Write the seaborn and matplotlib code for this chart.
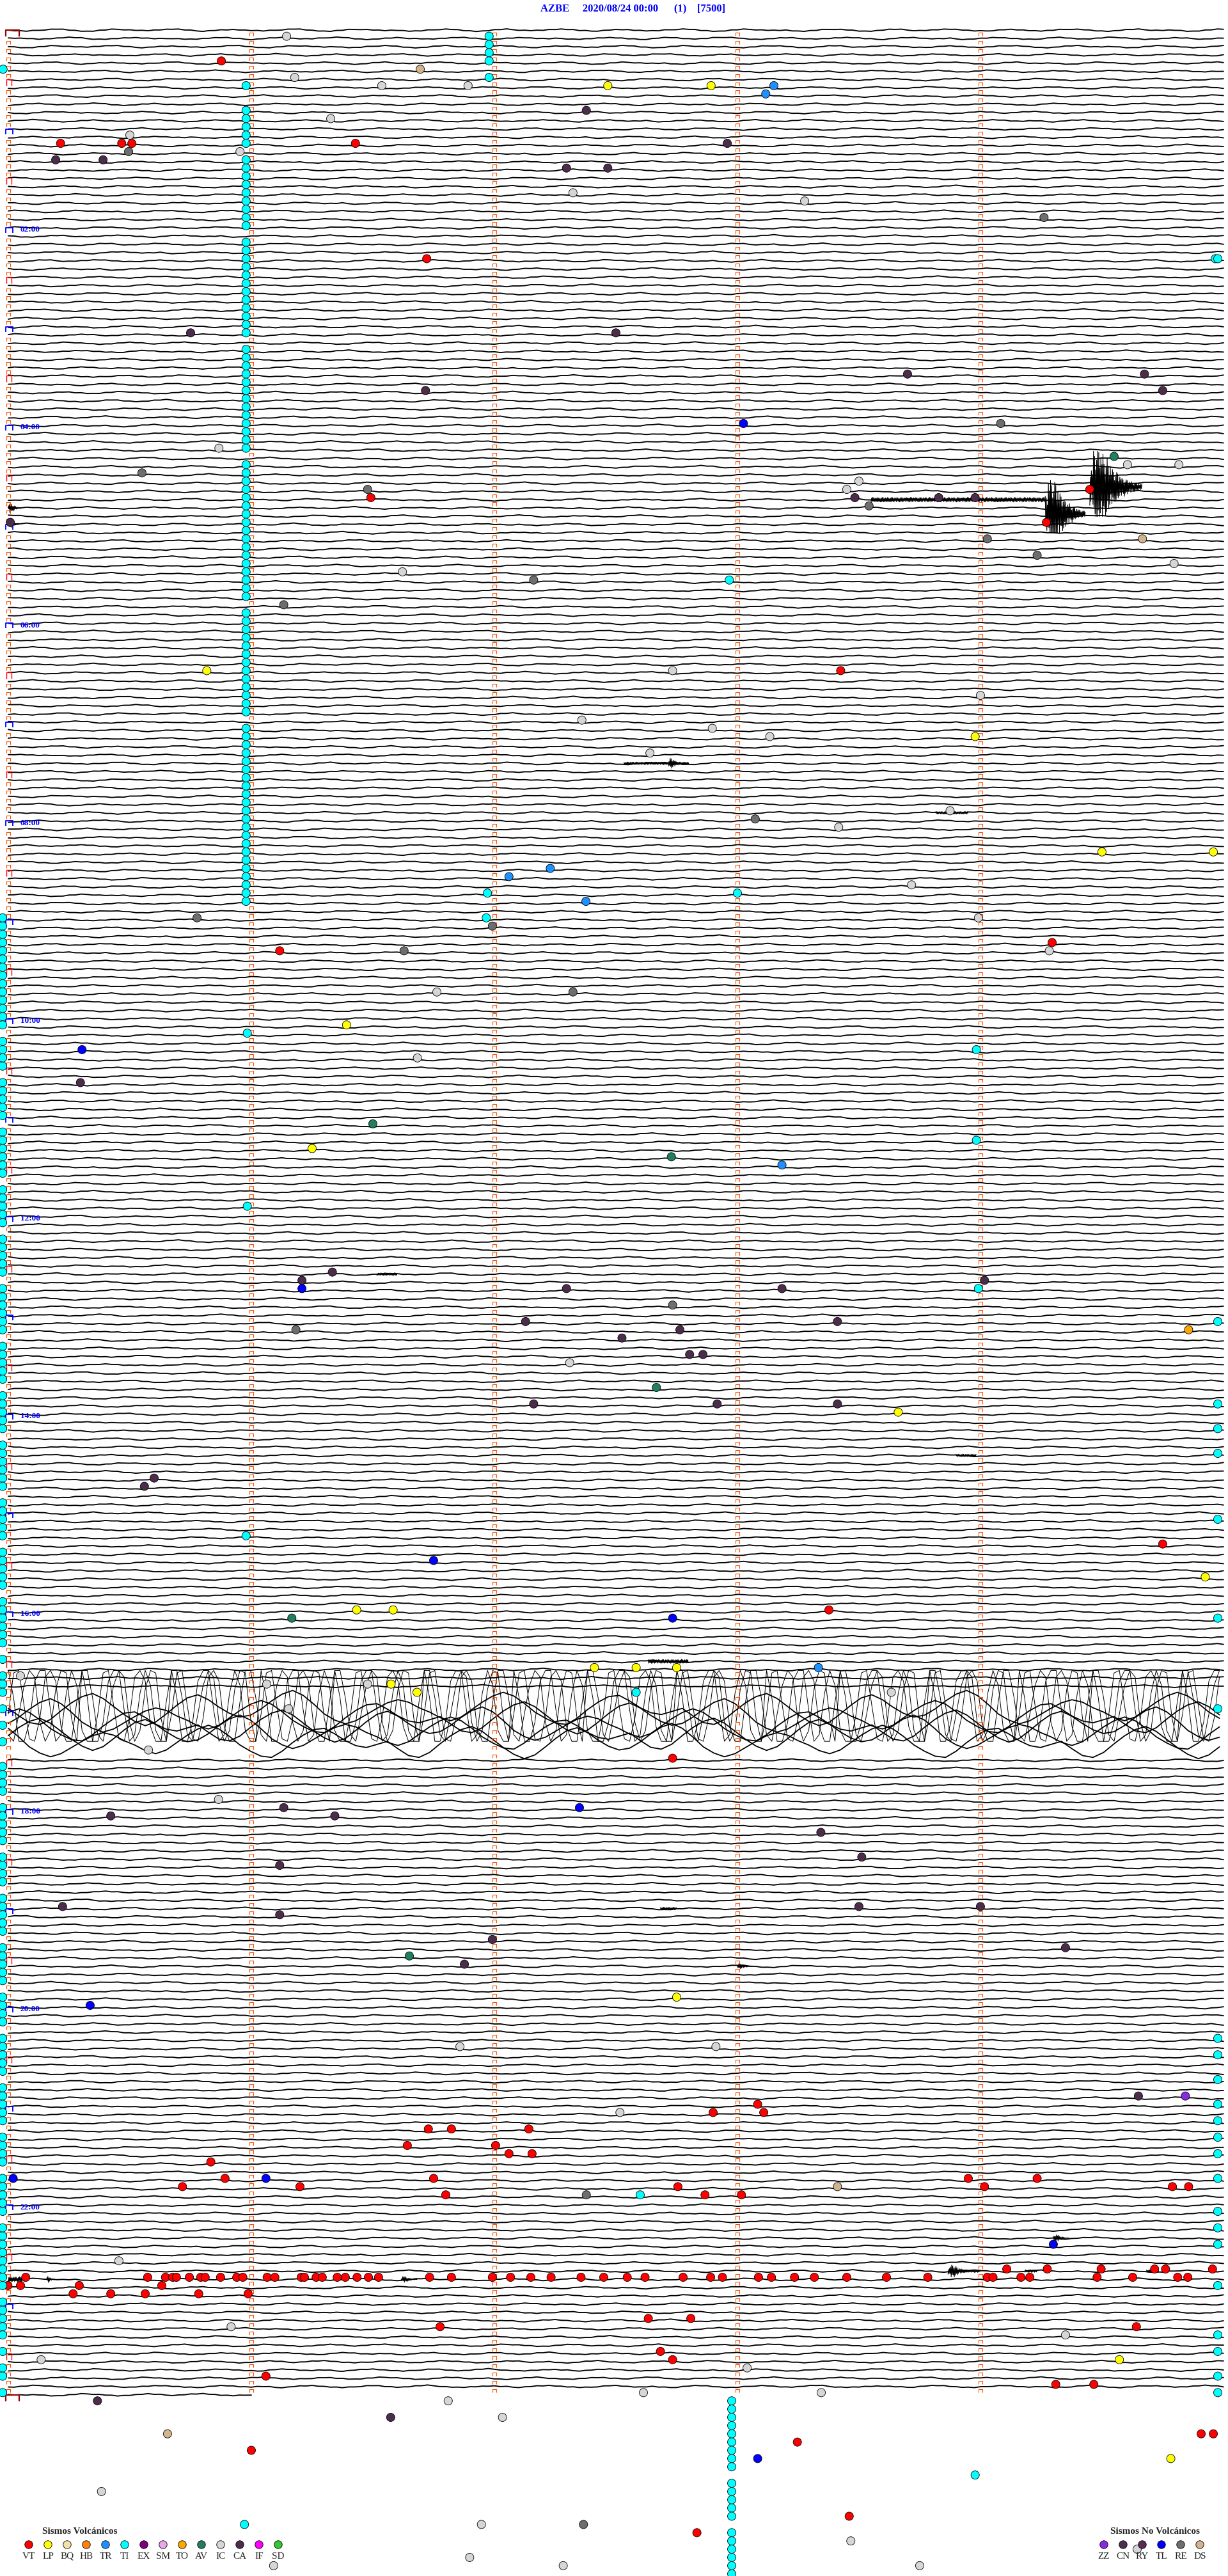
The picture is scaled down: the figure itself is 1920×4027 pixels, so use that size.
import numpy as np
import pandas as pd
import matplotlib
matplotlib.use("Agg")
import matplotlib.pyplot as plt
import seaborn as sns
from matplotlib.path import Path

# helicorder: 288 rows of 5 minutes, x = seconds inside the row
n_rows = 288
row_secs = 300
last_row_secs = 60
label_hours = [2, 4, 6, 8, 10, 12, 14, 16, 18, 20, 22]

# background wiggle (pixels), reused with a shift on every row
wiggle_px = [0.0, 1.2, 2.3, 2.6, 1.8, 0.4, -0.9, -1.9, -2.4, -1.6, -0.3, 1.0, 2.1, 2.8, 2.2, 0.9,
             -0.5, -1.7, -2.2, -1.4, -0.2, 0.8, 1.4, 1.1, 0.1, -1.2, -2.3, -2.9, -2.1, -0.7, 0.9, 1.9,
             2.5, 2.0, 1.0, 0.0, -0.9, -1.4, -1.0, -0.1, 0.6, 1.5, 2.0, 1.4, 0.2, -1.0, -2.0, -2.6,
             -2.0, -0.8, 0.6, 1.6, 2.4, 2.6, 1.6, 0.2, -1.0, -1.9, -2.1, -1.2, -0.1, 0.7, 1.0, 0.5]
jitter_px = [0.0, 0.5, -0.4, 0.3, -0.6, 0.2, 0.6, -0.3, 0.1, -0.5, 0.4, -0.2, 0.6]
burst_shape = [1.0, -0.7, 0.85, -1.0, 0.6, -0.9, 0.95, -0.5, 0.75, -0.85, 0.4, -0.65, 0.9, -0.95,
               0.55, -0.8, 0.7, -0.45]
decay_env = [0.5, 1.0, 1.0, 0.9, 0.75, 0.6, 0.48, 0.38, 0.3, 0.24, 0.19, 0.15, 0.12, 0.1, 0.08]
storm_swing = [-1.0, -0.2, 0.9, 1.0, 0.4, -0.6, -1.0, -0.9, 0.1, 1.0, 0.7, -0.3, -1.0, -0.5, 0.6, 1.0,
               1.0, 0.2, -0.8, -1.0, 0.0, 0.8, 1.0, 0.3, -0.7, -1.0, -0.6, 0.5, 1.0, 0.9, -0.1, -0.9,
               -1.0, -0.2, 0.7, 1.0, 0.2, -0.5, -1.0, -0.7, 0.4, 1.0, 0.6, -0.4, -1.0, -0.8, 0.3, 0.9]
storm_thin_rows = [202, 203, 204]
storm_thick_rows = [205, 206, 207, 208, 209]

# bursts: row, start sec, end sec, amplitude px, offset px, shape
bursts = [
    (57, 213, 256, 3.5, 0, "flat"), (57, 256, 266, 55, 22, "decay"), (55, 267, 280, 60, 6, "decay"),
    (58, 0, 3, 8, 0, "decay"), (60, 0, 2.5, 6, 0, "decay"),
    (89, 152, 168, 2, 0, "flat"), (89, 163, 167, 8, 0, "decay"), (95, 229, 237, 2, 0, "flat"),
    (151, 91, 96, 2, 0, "flat"), (173, 234, 239, 2, 0, "flat"), (198, 158, 168, 3, 0, "flat"),
    (228, 161, 165, 2, 0, "flat"), (235, 180, 184, 4, 0, "decay"), (268, 258, 262, 6, 0, "decay"),
    (272, 232, 238, 10, 0, "decay"), (272, 235, 240, 2, 0, "flat"), (272, 251, 254, 2, 0, "flat"),
    (272, 281, 284, 2, 0, "flat"), (273, 0, 4, 4, 0, "flat"), (273, 9.5, 11.5, 5, 0, "decay"),
    (273, 97, 101, 5, 0, "decay"),
]

# event circles (row, sec) per type
vt_events = [(4, 52.6), (14, 12.9), (14, 28), (14, 30.5), (14, 85.7), (28, 103.3), (56, 267), (60, 256.3),
             (57, 89.5), (78, 205.5), (111, 257.7), (112, 67), (184, 285), (192, 202.6), (210, 164),
             (252, 185), (253, 174), (253, 186.5), (255, 103.7), (255, 109.4), (257, 120.3), (255, 128.5),
             (258, 123.6), (258, 129.3), (257, 98.5), (259, 50), (261, 53.5), (262, 43), (262, 72),
             (261, 105), (263, 108), (262, 165.3), (263, 172), (263, 181), (261, 237), (262, 241),
             (261, 254), (262, 287.4), (262, 291.4),
             (272, 246.5), (272, 256.5), (272, 269.8), (272, 283), (272, 285.7), (272, 297.3),
             (273, 4.3), (273, 34.4), (273, 38.8), (273, 40.6), (273, 41.5), (273, 44.7), (273, 47.5),
             (273, 48.6), (273, 52.4), (273, 56.4), (273, 57.9), (273, 63.9), (273, 65.8), (273, 72.3),
             (273, 73.1), (273, 76), (273, 77.5), (273, 81.2), (273, 83.2), (273, 86.1), (273, 88.9),
             (273, 91.4), (273, 104), (273, 109.4), (273, 119.5), (273, 124), (273, 129), (273, 134),
             (273, 141.4), (273, 147), (273, 152.8), (273, 157.2), (273, 166.6), (273, 173.4),
             (273, 176.3), (273, 185.2), (273, 188.4), (273, 194.1), (273, 199), (273, 207), (273, 216.8),
             (273, 227), (273, 241.7), (273, 243.1), (273, 250), (273, 252.2), (273, 268.8), (273, 277.6),
             (273, 288.7), (273, 291.2),
             (274, -0.1), (274, 3), (274, 17.5), (274, 37.9),
             (275, 16), (275, 25.3), (275, 33.8), (275, 47), (275, 59.2),
             (278, 158), (278, 168.5), (282, 161), (283, 164), (279, 106.6), (285, 63.6), (279, 278.5),
             (286, 258.6), (286, 268), (293, 194.8), (302, 207.6), (304, 170), (292, 297.5), (292, 294.5),
             (294, 60)]
lp_events = [(7, 148), (7, 173.5), (78, 49), (86, 238.7), (100, 270), (100, 297.5), (121, 83.5), (136, 75),
             (168, 219.7), (188, 295.5), (192, 86), (192, 95), (199, 144.7), (199, 155), (199, 165),
             (201, 94.5), (202, 100.9), (239, 165), (283, 274.3), (295, 287)]
tr_events = [(7, 189), (8, 187), (103, 123.6), (102, 133.8), (106, 142.6), (138, 191), (199, 200)]
ti_events = [(5, -1.3), (28, 298), (67, 178), (105, 118.3), (108, 118), (105, 180), (124, 239), (135, 239),
             (153, 239.5), (183, 58.7), (202, 155), (263, 156), (297, 238.7), (303, 58.3), (122, 59), (143, 59)]
ic_events = [(1, 68.7), (6, 70.7), (7, 92.2), (7, 113.5), (11, 79.6), (15, 57.2), (13, 30), (20, 139.4),
             (21, 196.6), (51, 52), (53, 276.3), (53, 289), (55, 210), (56, 207), (65, 287.8), (66, 97.3),
             (78, 164), (81, 240), (84, 141.6), (85, 173.8), (86, 188), (88, 158.4), (95, 232.5), (97, 205),
             (104, 223), (108, 239.5), (112, 257), (117, 105.8), (125, 101), (162, 138.6), (200, 3),
             (201, 63.8), (201, 88.7), (202, 218), (204, 69.2), (209, 34.6), (215, 51.9), (245, 111.5),
             (245, 174.7), (253, 151), (271, 27.3), (279, 55), (280, 261), (283, 8.1), (284, 182.4),
             (287, 156.8), (287, 200.7), (288, 108.6), (290, 122), (299, 23), (303, 116.8), (305, 208),
             (306, 278.7), (307, 113.9), (308, 137), (308, 65.5), (308, 225)]
ca_events = [(10, 142.7), (14, 177.5), (16, 11.7), (16, 23.4), (17, 137.8), (17, 148), (37, 45), (37, 150),
             (42, 222), (42, 280.5), (44, 103), (44, 285), (57, 209), (57, 229.7), (57, 238.7), (60, 0.5),
             (128, 17.8), (151, 80), (152, 72.5), (152, 241), (153, 191), (153, 137.8), (157, 127.7),
             (157, 204.7), (158, 165.8), (159, 151.5), (161, 168.2), (161, 171.5), (167, 129.7), (167, 175),
             (167, 204.7), (176, 36), (177, 33.6), (216, 68), (217, 25.3), (217, 80.6), (219, 200.6),
             (222, 210.7), (223, 67), (228, 13.4), (228, 210), (228, 240), (229, 67), (232, 119.5),
             (233, 261), (235, 112.6), (251, 279), (288, 22), (290, 94.4)]
re_events = [(15, 29.7), (23, 255.7), (48, 245), (54, 33), (56, 88.7), (58, 212.5), (62, 241.7), (64, 254),
             (67, 129.7), (70, 68), (96, 184.4), (108, 46.6), (109, 119.5), (112, 97.7), (117, 139.4),
             (155, 164), (158, 71), (263, 142.7), (303, 142)]
ds_events = [(5, 101.7), (62, 280), (262, 204.7), (292, 39.3)]
av_events = [(52, 273), (133, 90), (137, 163.7), (165, 160), (193, 70), (234, 99)]
tl_events = [(48, 181.5), (124, 18.2), (153, 72.5), (186, 105), (193, 164), (216, 141), (240, 20.2),
             (261, 63.6), (261, 1.2), (269, 258), (295, 185)]
to_events = [(158, 291.4)]
zz_events = [(251, 290.6)]

# columns of TI (tremor) marks
ti_col1_sec, ti_col1_rows = 58.7, [7, 10, 11, 12, 13, 14] + [r for r in range(16, 107) if r not in (25, 38, 52, 70, 84)]
ti_col2_sec, ti_col2_rows = 118.7, [1, 2, 3, 4, 6]
ti_left_sec = -1.4
ti_left_rows = [r for r in range(108, 288) if r not in
                (122, 127, 133, 140, 146, 152, 159, 165, 171, 178, 184, 190, 197, 199, 203, 205, 207, 209,
                 210, 215, 221, 226, 232, 238, 243, 249, 255, 260, 266, 275, 281, 283, 286)]
ti_right_sec = 298.6
ti_right_rows = [28, 157, 167, 170, 173, 181, 193, 204, 244, 246, 249, 252, 254, 256, 258, 261, 265, 267,
                 269, 274, 280, 282, 285, 287]
ti_below_sec = 178.6
ti_below_rows = list(range(288, 297)) + list(range(298, 303)) + list(range(304, 310))

vol_codes = ["VT", "LP", "BQ", "HB", "TR", "TI", "EX", "SM", "TO", "AV", "IC", "CA", "IF", "SD"]
vol_colors = ["#ff0000", "#ffff00", "#f2e2a8", "#ff8010", "#1e90ff", "#00ffff", "#800080", "#e8a8e8",
              "#ffa500", "#1f7f5f", "#d6d6d6", "#4b2d4b", "#ff00ff", "#32c832"]
nv_codes = ["ZZ", "CN", "RY", "TL", "RE", "DS"]
nv_colors = ["#8a2be2", "#4b3050", "#5a2a55", "#0000ff", "#6e6e6e", "#d2b48c"]

W, H = 1920, 4027
px_row = 12.88
px_sec = 6.333
top_px, left_px = 47, 13

sns.set_style("white")
plt.rcParams["font.family"] = ["Liberation Serif", "DejaVu Serif"]

fig = plt.figure(figsize=(W / 100, H / 100), dpi=100)
ax = fig.add_axes([0, 0, 1, 1])

# ---- traces
parts = []
storm_rows = storm_thin_rows + storm_thick_rows
for r in range(n_rows):
    if r in storm_rows:
        continue
    end = last_row_secs if r == n_rows - 1 else row_secs
    xs = np.arange(0, end + 0.01, 1.5)
    idx = np.arange(len(xs))
    w = np.take(wiggle_px, (idx + 37 * r) % len(wiggle_px))
    j = np.take(jitter_px, (idx + 5 * r) % len(jitter_px))
    parts.append(pd.DataFrame({"line": r, "sec": xs, "y": r + (0.6 * w + j) / px_row}))
traces = pd.concat(parts)

thin = []
for k, r in enumerate(storm_thin_rows):
    xs = np.arange(0, row_secs + 0.01, 1.3)
    idx = np.arange(len(xs))
    s = np.take(storm_swing, (idx + 17 * k) % len(storm_swing))
    thin.append(pd.DataFrame({"line": r, "sec": xs, "y": np.clip(203.4 + 5.0 * s, 199.1, 207.7)}))
thick = []
for k, r in enumerate(storm_thick_rows):
    xs = np.arange(0, row_secs + 0.01, 2.6)
    idx = np.arange(len(xs))
    w = np.take(wiggle_px, (idx + 23 * k) % len(wiggle_px))
    thick.append(pd.DataFrame({"line": r, "sec": xs, "y": r - 1.3 + w * 0.75}))

bl = []
for b, (r, s0, s1, amp, off, kind) in enumerate(bursts):
    xs = np.arange(s0, s1, 0.13)
    idx = np.arange(len(xs))
    shape = np.take(burst_shape, (idx + 3 * b) % len(burst_shape))
    env = np.take(decay_env, idx * len(decay_env) // len(xs)) if kind == "decay" else 1.0
    ypx = np.clip(off + amp * env * shape, -50, 52)
    bl.append(pd.DataFrame({"line": 1000 + b, "sec": xs, "y": r + ypx / px_row}))

sns.lineplot(data=traces, x="sec", y="y", units="line", estimator=None, sort=False,
             color="black", linewidth=1.35, ax=ax, legend=False)
sns.lineplot(data=pd.concat(thick), x="sec", y="y", units="line", estimator=None, sort=False,
             color="black", linewidth=1.3, ax=ax, legend=False)
sns.lineplot(data=pd.concat(thin), x="sec", y="y", units="line", estimator=None, sort=False,
             color="black", linewidth=0.7, ax=ax, legend=False)
sns.lineplot(data=pd.concat(bl), x="sec", y="y", units="line", estimator=None, sort=False,
             color="black", linewidth=0.8, ax=ax, legend=False)


# ---- minute marks
def bracket(wd, ht):
    return Path([(-wd, -ht), (-wd, ht), (wd, ht), (wd, -ht)],
                [Path.MOVETO, Path.LINETO, Path.LINETO, Path.LINETO])


small_x, small_y = [], []
blue_y, red_y, dark_y = [], [], []
for r in range(n_rows):
    n_min = 1 if r == n_rows - 1 else 5
    for m in range(n_min):
        if m == 0 and (r == 0 or r == n_rows - 1):
            dark_y.append(r)
        elif m == 0 and r % 12 == 0:
            blue_y.append(r)
        elif m == 0 and r % 6 == 0:
            red_y.append(r)
        else:
            small_x.append(m * 60)
            small_y.append(r + 0.53)
ax.scatter(small_x, small_y, marker=bracket(1, 1), s=14, facecolors="none",
           edgecolors="#ff5000", linewidths=0.8, zorder=3)
ax.scatter([0.3] * len(blue_y), np.array(blue_y) + 0.31, marker=bracket(1, 0.73), s=63,
           facecolors="none", edgecolors="#0000ff", linewidths=1.3, zorder=3)
ax.scatter([0.2] * len(red_y), np.array(red_y) + 0.35, marker=bracket(0.8, 1), s=52,
           facecolors="none", edgecolors="#ff0000", linewidths=1.0, zorder=3)
ax.scatter([1.1] * len(dark_y), np.array(dark_y) + 0.39, marker=bracket(1, 0.48), s=228,
           facecolors="none", edgecolors="#990000", linewidths=1.6, zorder=3)

for h in label_hours:
    ax.text(3.0, h * 12 + 0.25, f"{h:02d}:00", color="#0000ff", fontsize=9.5,
            fontweight="bold", ha="left", va="center")

# ---- event circles
groups = {"VT": vt_events, "LP": lp_events, "TR": tr_events, "TI": ti_events, "IC": ic_events,
          "CA": ca_events, "RE": re_events, "DS": ds_events, "AV": av_events, "TL": tl_events,
          "TO": to_events, "ZZ": zz_events}
cols = [(ti_col1_sec, ti_col1_rows), (ti_col2_sec, ti_col2_rows), (ti_left_sec, ti_left_rows),
        (ti_right_sec, ti_right_rows), (ti_below_sec, ti_below_rows)]
recs = [(k, r, s) for k, lst in groups.items() for r, s in lst]
recs += [("TI", r, s) for s, rows in cols for r in rows]
ev = pd.DataFrame(recs, columns=["kind", "row", "sec"])
ev["y"] = ev["row"] - 0.25
palette = dict(zip(vol_codes + nv_codes, vol_colors + nv_colors))
sns.scatterplot(data=ev, x="sec", y="y", hue="kind", palette=palette, s=88, edgecolor="black",
                linewidth=0.6, legend=False, ax=ax, zorder=5)
ax.set_xlim(-left_px / px_sec, (W - left_px) / px_sec)
ax.set_ylim((H - top_px) / px_row, -top_px / px_row)
ax.axis("off")

fig.text(990 / W, 1 - 13 / H, "AZBE     2020/08/24 00:00      (1)    [7500]", color="#0000ff",
         fontsize=12, fontweight="bold", ha="center", va="center")


# ---- keys
def draw_key(x0, title, codes, colors):
    lax = fig.add_axes([x0 / W, 1 - 4012 / H, len(codes) * 30 / W, 67 / H])
    key = pd.DataFrame({"code": codes, "pos": range(len(codes)), "y": 33})
    sns.scatterplot(data=key, x="pos", y="y", hue="code", palette=dict(zip(codes, colors)), s=80,
                    edgecolor="black", linewidth=0.6, legend=False, ax=lax)
    lax.set_xlim(-0.5, len(codes) - 0.5)
    lax.set_ylim(67, 0)
    lax.axis("off")
    for i, c in enumerate(codes):
        lax.text(i, 51, c, ha="center", va="center", fontsize=11)
    lax.text(2.65, 12, title, ha="center", va="center", fontsize=11, fontweight="bold")


draw_key(30, "Sismos Volcánicos", vol_codes, vol_colors)
draw_key(1711, "Sismos No Volcánicos", nv_codes, nv_colors)

fig.savefig("out.png", dpi=100)
